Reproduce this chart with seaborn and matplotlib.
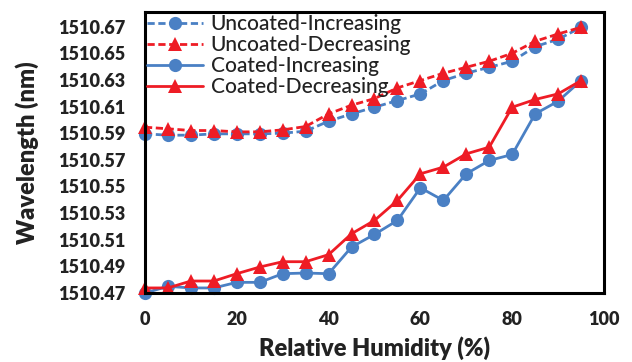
import matplotlib
matplotlib.use("Agg")
import matplotlib.pyplot as plt
import seaborn as sns
import pandas as pd

humidity = [0, 5, 10, 15, 20, 25, 30, 35, 40, 45, 50, 55, 60, 65, 70, 75, 80, 85, 90, 95]
uncoated_inc = [1510.5895, 1510.5885, 1510.5885, 1510.5895, 1510.5895, 1510.5895, 1510.590, 1510.5915,
                1510.599, 1510.6045, 1510.6095, 1510.6145, 1510.6195, 1510.6295, 1510.635, 1510.6395,
                1510.644, 1510.655, 1510.6605, 1510.6695]
uncoated_dec = [1510.5945, 1510.5933, 1510.592, 1510.592, 1510.591, 1510.591, 1510.5925, 1510.595,
                1510.6045, 1510.611, 1510.616, 1510.624, 1510.6295, 1510.635, 1510.6395, 1510.644,
                1510.650, 1510.659, 1510.6645, 1510.6695]
coated_inc = [1510.470, 1510.475, 1510.4738, 1510.4738, 1510.478, 1510.478, 1510.4845, 1510.485,
              1510.4845, 1510.5045, 1510.514, 1510.5245, 1510.549, 1510.5395, 1510.5595, 1510.5695,
              1510.574, 1510.6045, 1510.614, 1510.6295]
coated_dec = [1510.4738, 1510.4738, 1510.479, 1510.479, 1510.4845, 1510.4895, 1510.4935, 1510.4935,
              1510.4988, 1510.5145, 1510.5245, 1510.5395, 1510.5595, 1510.5645, 1510.5745, 1510.5795,
              1510.6095, 1510.6153, 1510.6195, 1510.6295]
series_names = ["Uncoated-Increasing", "Uncoated-Decreasing", "Coated-Increasing", "Coated-Decreasing"]
x_ticks = [0, 20, 40, 60, 80, 100]
y_ticks = [1510.47, 1510.49, 1510.51, 1510.53, 1510.55, 1510.57, 1510.59, 1510.61, 1510.63, 1510.65, 1510.67]

sns.set_style("white")
plt.rcParams['font.family'] = ['Lato', 'DejaVu Sans']

fig = plt.figure(figsize=(6.32, 3.62), dpi=100)
ax = fig.add_axes([0.2294, 0.1906, 0.7263, 0.7763])

blue = "#4a80c4"
red = "#ee1c25"
styles = [
    (uncoated_inc, blue, "--", "o"),
    (uncoated_dec, red, "--", "^"),
    (coated_inc, blue, "-", "o"),
    (coated_dec, red, "-", "^"),
]
for name, (vals, col, ls, mk) in zip(series_names, styles):
    df = pd.DataFrame({"x": humidity, "y": vals})
    sns.lineplot(data=df, x="x", y="y", ax=ax, color=col, marker=mk,
                 markersize=9.5, markeredgewidth=0, linewidth=2, label=name, clip_on=False)
for line, (vals, col, ls, mk) in zip(ax.get_lines(), styles):
    if ls == "--":
        line.set_dashes((2.6, 1.3))

ax.set_xlim(0, 100)
ax.set_ylim(1510.47, 1510.681)
ax.set_xticks(x_ticks)
ax.set_xticklabels([str(t) for t in x_ticks])
ax.set_yticks(y_ticks)
ax.set_yticklabels([f"{t:.2f}" for t in y_ticks])
for sp in ax.spines.values():
    sp.set_color("black")
    sp.set_linewidth(2.2)
ax.tick_params(axis="both", direction="inout", length=8, width=1.2, color="black",
               labelsize=13, labelcolor="#222222")
ax.tick_params(axis="y", pad=10)
ax.tick_params(axis="x", pad=9)
for lbl in ax.get_xticklabels() + ax.get_yticklabels():
    lbl.set_fontweight("heavy")
ax.set_xlabel("Relative Humidity (%)", fontsize=17, fontweight="heavy", color="#222222")
ax.set_ylabel("Wavelength (nm)", fontsize=17, fontweight="heavy", color="#222222")
ax.xaxis.set_label_coords(0.5, -0.196)
ax.xaxis.label.set_va("center")
ax.yaxis.set_label_coords(-0.257, 0.5)
ax.yaxis.label.set_va("center")

leg = ax.legend(loc="upper left", frameon=False, fontsize=15, handlelength=2.7,
                handletextpad=0.35, labelspacing=0.05, borderaxespad=0.0, borderpad=0.1,
                bbox_to_anchor=(0.0, 1.0), prop={"size": 15, "weight": "medium"})
for t in leg.get_texts():
    t.set_color("#222222")

fig.savefig("out.png", dpi=100)
